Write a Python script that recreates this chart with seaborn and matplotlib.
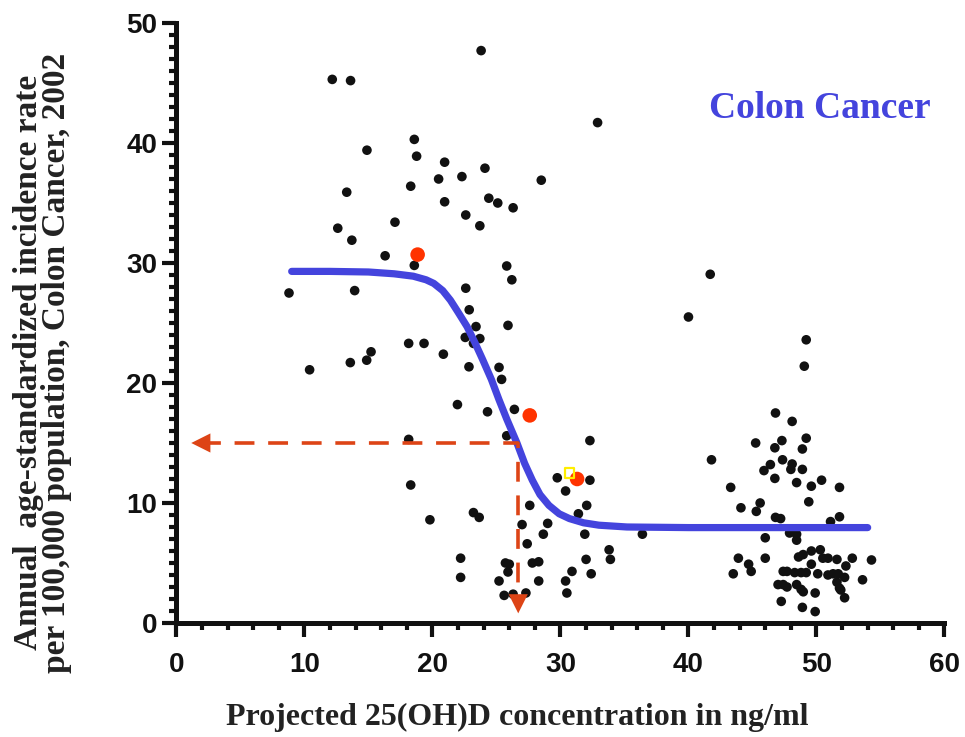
import numpy as np
import pandas as pd
import matplotlib
matplotlib.use("Agg")
import matplotlib.pyplot as plt
from matplotlib.ticker import MultipleLocator
import seaborn as sns

# 국가별 점 (x: 25(OH)D, y: incidence)
pts_x = [12.17, 13.6, 23.8, 32.9, 18.58, 14.88, 18.76, 20.95, 20.48, 22.3,
         24.1, 28.5, 18.3, 13.3, 20.95, 24.4, 25.1, 26.3, 22.6, 23.7,
         12.6, 17.07, 13.7, 16.3, 18.58, 25.8, 26.2, 8.79, 13.92, 22.6,
         22.87, 23.4, 25.9, 22.56, 23.7, 23.2, 18.14, 19.34, 15.2, 14.86,
         13.58, 20.85, 10.4, 22.85, 25.2, 25.4, 21.95, 24.3, 26.4, 18.14,
         25.8, 32.3, 18.3, 29.75, 32.3, 30.4, 19.8, 27.6, 32.05, 23.2,
         23.65, 31.4, 29.0, 27.0, 28.66, 31.9, 36.4, 27.4, 33.8, 33.9,
         32.0, 22.2, 25.7, 26.0, 27.8, 28.3, 25.9, 30.9, 32.4, 22.2,
         25.2, 28.3, 30.4, 25.6, 26.3, 27.3, 30.5,
         41.7, 40.0, 49.2, 49.05, 46.8, 48.1, 45.25, 47.3, 49.2, 46.75,
         48.9, 41.8, 46.4, 47.35, 48.1, 48.0, 48.9, 45.9, 46.75, 48.45,
         49.6, 50.4, 51.8, 43.3, 49.4, 44.1, 45.6, 45.3, 46.8, 47.2,
         51.8, 51.1, 47.9, 48.45, 46.0, 48.45, 43.9, 46.0, 44.7, 44.9,
         43.5, 48.6, 48.96, 49.6, 50.3, 50.5, 50.9, 51.6, 52.8, 54.3,
         49.6, 52.3, 47.4, 47.7, 48.3, 48.8, 49.2, 50.1, 50.9, 51.3,
         51.7, 52.2, 53.6, 47.0, 47.4, 47.7, 48.45, 48.8, 48.97, 51.6,
         51.8, 51.9, 49.9, 52.2, 47.25, 48.9, 49.9]
pts_y = [45.3, 45.2, 47.7, 41.7, 40.3, 39.4, 38.9, 38.4, 37.0, 37.2,
         37.9, 36.9, 36.4, 35.9, 35.1, 35.4, 35.0, 34.6, 34.0, 33.1,
         32.9, 33.4, 31.9, 30.6, 29.8, 29.75, 28.6, 27.5, 27.7, 27.9,
         26.1, 24.7, 24.8, 23.8, 23.7, 23.3, 23.3, 23.3, 22.6, 21.9,
         21.7, 22.4, 21.1, 21.35, 21.3, 20.3, 18.2, 17.6, 17.8, 15.3,
         15.6, 15.2, 11.5, 12.1, 11.9, 11.0, 8.6, 9.8, 9.8, 9.2,
         8.8, 9.1, 8.3, 8.2, 7.4, 7.4, 7.4, 6.6, 6.1, 5.3,
         5.3, 5.4, 5.0, 4.9, 5.0, 5.1, 4.25, 4.3, 4.1, 3.8,
         3.5, 3.5, 3.5, 2.3, 2.4, 2.5, 2.5,
         29.06, 25.5, 23.6, 21.4, 17.5, 16.8, 15.0, 15.2, 15.4, 14.6,
         14.5, 13.6, 13.2, 13.6, 13.25, 12.8, 12.8, 12.7, 12.05, 11.7,
         11.4, 11.9, 11.3, 11.3, 10.1, 9.6, 10.0, 9.3, 8.8, 8.7,
         8.85, 8.45, 7.5, 7.4, 7.1, 6.9, 5.4, 5.4, 4.9, 4.3,
         4.1, 5.5, 5.7, 6.0, 6.1, 5.4, 5.4, 5.3, 5.4, 5.25,
         4.9, 4.75, 4.3, 4.3, 4.2, 4.2, 4.2, 4.1, 4.0, 4.1,
         4.1, 3.8, 3.6, 3.2, 3.2, 3.0, 3.2, 2.8, 2.6, 3.4,
         2.9, 2.75, 2.5, 2.1, 1.8, 1.3, 0.95]

# 빨간 점 / 노란 표시
red_x = [18.84, 27.6, 31.3]
red_y = [30.7, 17.3, 12.0]
yellow_x = [30.7]
yellow_y = [12.5]

# 곡선
curve_x = [9.0, 12.0, 15.0, 17.0, 18.5, 19.5, 20.1, 20.8, 21.4, 22.0,
           22.7, 23.3, 23.9, 24.6, 25.2, 25.8, 26.6, 27.2, 27.8, 28.4,
           29.1, 29.9, 30.7, 31.8, 33.0, 35.2, 40.0, 45.0, 50.0, 54.0]
curve_y = [29.3, 29.3, 29.25, 29.1, 28.9, 28.6, 28.3, 27.7, 26.9, 25.9,
           24.7, 23.4, 22.0, 20.3, 18.6, 17.0, 15.0, 13.3, 11.9, 10.7,
           9.8, 9.1, 8.7, 8.35, 8.15, 8.0, 7.95, 7.95, 7.95, 7.95]

# 점선 (15 ng/ml 기준선)
guide_x = [1.9, 26.7, 26.7]
guide_y = [15.0, 15.0, 1.6]

df = pd.DataFrame({'x': pts_x, 'y': pts_y})

sns.set_theme(style="ticks")
plt.rcParams['font.family'] = ['Liberation Sans', 'DejaVu Sans']

fig = plt.figure(figsize=(9.65, 7.37), dpi=100)
ax = fig.add_axes([0.1829, 0.1547, 0.7958, 0.8141])

sns.scatterplot(data=df, x='x', y='y', ax=ax, color='#111111', s=48,
                edgecolor='none', zorder=2, legend=False)

sns.lineplot(x=curve_x, y=curve_y, ax=ax, sort=False, estimator=None,
             color='#4444DD', linewidth=5.2, zorder=3)

ax.plot(guide_x, guide_y, color='#DD4416', linewidth=2.6,
        dashes=(5.5, 3.8), zorder=4)
ax.scatter([guide_x[0]], [guide_y[0]], marker='<', s=190, color='#DD4416',
           edgecolor='none', zorder=4)
ax.scatter([guide_x[-1]], [guide_y[-1]], marker='v', s=190, color='#DD4416',
           edgecolor='none', zorder=4)

ax.scatter(red_x, red_y, s=110, color='#FF3300', edgecolor='none', zorder=5)
ax.scatter(yellow_x, yellow_y, s=45, marker='s', facecolor='none',
           edgecolor='#FFEE00', linewidth=1.6, zorder=5)

# 축 설정
ax.set_xlim(0, 60)
ax.set_ylim(0, 50)
ax.set_xticks(range(0, 61, 10))
ax.set_yticks(range(0, 51, 10))
ax.xaxis.set_minor_locator(MultipleLocator(2))
ax.yaxis.set_minor_locator(MultipleLocator(1))
ax.tick_params(which='major', length=10, width=3, color='#111111',
               labelsize=20, labelcolor='#111111')
ax.tick_params(axis='y', which='major', pad=4)
ax.tick_params(axis='x', which='major', pad=11)
ax.tick_params(which='minor', length=5, width=3, color='#111111')
for lab in ax.get_xticklabels() + ax.get_yticklabels():
    lab.set_fontweight('heavy')

for side in ['top', 'right']:
    ax.spines[side].set_visible(False)
for side in ['left', 'bottom']:
    ax.spines[side].set_linewidth(3.6)
    ax.spines[side].set_color('#111111')
ax.set_xlabel('')
ax.set_ylabel('')

serif = ['Liberation Serif', 'DejaVu Serif']
ax.text(50.3, 42.9, 'Colon Cancer', color='#4444DD', fontsize=27,
        fontweight='bold', family=serif, ha='center', va='center')

fig.text(0.536, 0.026, 'Projected 25(OH)D concentration in ng/ml',
         fontsize=23, fontweight='bold', family=serif, color='#222222',
         ha='center', va='center')
fig.text(0.044, 0.508,
         'Annual  age-standardized incidence rate\nper 100,000 population, Colon Cancer, 2002',
         fontsize=24, fontweight='bold', family=serif, color='#222222',
         rotation=90, ha='center', va='center', multialignment='center',
         linespacing=0.88)

fig.savefig('out.png', dpi=100, facecolor='white')
